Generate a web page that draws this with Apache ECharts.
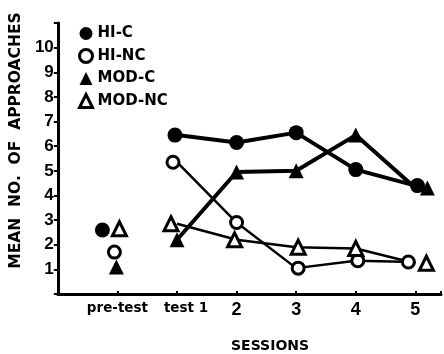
<!DOCTYPE html>
<html><head><meta charset="utf-8">
<script src="https://cdn.jsdelivr.net/npm/echarts@6/dist/echarts.min.js"></script>
<style>html,body{margin:0;padding:0;background:#fff}#c{width:444px;height:354px}</style>
</head><body><div id="c"></div>
<script>
// Data
var sessions = ['pre-test', 'test 1', '2', '3', '4', '5'];
var yTicks = ['1','2','3','4','5','6','7','8','9','10'];
var hiC   = [2.6, 6.45, 6.15, 6.55, 5.05, 4.4];
var hiNC  = [1.7, 5.35, 2.9, 1.05, 1.35, 1.3];
var modC  = [1.1, 2.2, 4.95, 5.0, 6.45, 4.3];
var modNC = [2.65, 2.85, 2.2, 1.9, 1.85, 1.25];
var names = ['HI-C', 'HI-NC', 'MOD-C', 'MOD-NC'];

// styling: pixel offsets of the printed markers (overlap jitter)
var jitter = {
  'HI-C':   [-15, -2, 0, 0, 0, 2],
  'HI-NC':  [-3, -4, 0, 2, 2, -7],
  'MOD-C':  [-1, 0, 0, 0, 0, 12],
  'MOD-NC': [2, -6, -2, 2, 0, 11]
};
var styles = {
  'HI-C':   {symbol: 'circle', size: 15, fill: '#000', lw: 4},
  'HI-NC':  {symbol: 'circle', size: 12, fill: '#fff', lw: 2.5},
  'MOD-C':  {symbol: 'triangle', size: 15, fill: '#000', lw: 4},
  'MOD-NC': {symbol: 'triangle', size: 14, fill: '#fff', lw: 2.5}
};
var values = {'HI-C': hiC, 'HI-NC': hiNC, 'MOD-C': modC, 'MOD-NC': modNC};

var series = [];
names.forEach(function (n) {
  var st = styles[n], v = values[n], j = jitter[n];
  var lineData = [];
  for (var i = 1; i < v.length; i++) {
    lineData.push({value: [i, v[i]], symbolOffset: [j[i], 0]});
  }
  series.push({
    name: n, type: 'line', data: lineData, symbol: st.symbol, symbolSize: st.size,
    lineStyle: {color: '#000', width: st.lw},
    itemStyle: {color: st.fill, borderColor: '#000', borderWidth: st.fill === '#fff' ? 3 : 0},
    z: st.fill === '#fff' ? 3 : 4, animation: false
  });
  series.push({
    name: n, type: 'scatter', data: [{value: [0, v[0]], symbolOffset: [j[0], 0]}],
    symbol: st.symbol, symbolSize: st.size,
    itemStyle: {color: st.fill, borderColor: '#000', borderWidth: st.fill === '#fff' ? 3 : 0, opacity: 1},
    z: 5, animation: false
  });
});

var chart = echarts.init(document.getElementById('c'));
var fam = 'DejaVu Sans';
var num = 'Liberation Sans';
chart.setOption({
  animation: false,
  grid: {left: 57, right: 0, top: 23, bottom: 60},
  title: {text: 'SESSIONS', left: 231, top: 339, padding: 0,
    textStyle: {fontFamily: fam, fontWeight: 'bold', fontSize: 14, color: '#000'}},
  legend: {
    orient: 'vertical', left: 78, top: 26, padding: 0, itemWidth: 13, itemHeight: 13, itemGap: 7,
    selectedMode: false,
    textStyle: {fontFamily: fam, fontWeight: 'bold', fontSize: 15, lineHeight: 13, color: '#000'},
    data: [
      {name: 'HI-C', icon: 'circle', itemStyle: {color: '#000'}},
      {name: 'HI-NC', icon: 'circle', itemStyle: {color: '#fff', borderColor: '#000', borderWidth: 3}},
      {name: 'MOD-C', icon: 'triangle', itemStyle: {color: '#000'}},
      {name: 'MOD-NC', icon: 'triangle', itemStyle: {color: '#fff', borderColor: '#000', borderWidth: 3}}
    ]
  },
  xAxis: {
    type: 'value', min: -1, max: 5.43, interval: 1,
    axisLine: {onZero: false, lineStyle: {color: '#000', width: 3}},
    axisTick: {inside: true, length: 3, lineStyle: {color: '#000', width: 2}},
    splitLine: {show: false},
    axisLabel: {
      margin: 7, color: '#000', fontFamily: fam, fontWeight: 'bold',
      formatter: function (val) {
        if (Math.abs(val - Math.round(val)) > 1e-6 || val < 0) return '';
        var s = sessions[Math.round(val)];
        if (s === undefined) return '';
        if (val === 0) return '{p|' + s + '}';
        if (val === 1) return '{t|' + s + '}';
        return '{n|' + s + '}';
      },
      rich: {
        p: {fontFamily: fam, fontWeight: 'bold', fontSize: 13.5, color: '#000'},
        t: {fontFamily: fam, fontWeight: 'bold', fontSize: 13.5, color: '#000', padding: [0, 0, 0, 18]},
        n: {fontFamily: num, fontWeight: 'bold', fontSize: 18, color: '#000'}
      }
    }
  },
  yAxis: {
    type: 'value', min: 0, max: 11, interval: 1,
    name: 'MEAN  NO.  OF  APPROACHES', nameLocation: 'middle', nameGap: 30, nameRotate: 90,
    nameTextStyle: {fontFamily: fam, fontWeight: 'bold', fontSize: 15.5, color: '#000', padding: [0, 0, 0, 36]},
    axisLine: {show: true, onZero: false, lineStyle: {color: '#000', width: 3}},
    axisTick: {show: true, inside: false, length: 4, lineStyle: {color: '#000', width: 2}},
    splitLine: {show: false},
    axisLabel: {
      margin: 4, color: '#000', fontFamily: num, fontWeight: 'bold', fontSize: 17,
      formatter: function (val) {
        var k = Math.round(val);
        return (k >= 1 && k <= yTicks.length && Math.abs(val - k) < 1e-6) ? yTicks[k - 1] : '';
      }
    }
  },
  series: series
});
</script></body></html>
